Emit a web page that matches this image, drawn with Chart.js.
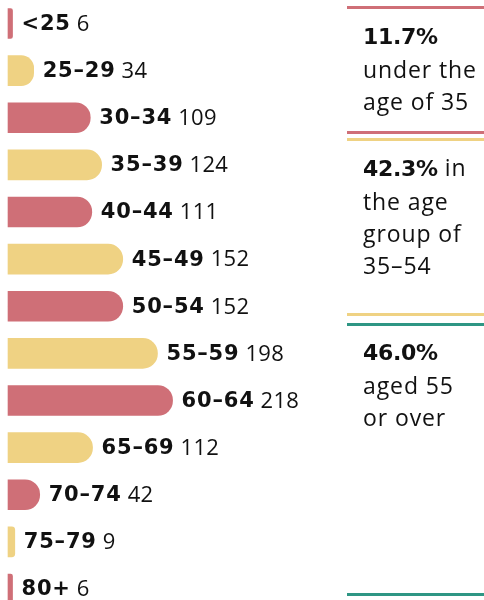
<!DOCTYPE html>
<html>
<head>
<meta charset="utf-8">
<script src="https://cdn.jsdelivr.net/npm/chart.js@4.4.1/dist/chart.umd.min.js"></script>
<style>
  html, body { margin: 0; padding: 0; background: #fff; }
  #wrap { position: relative; width: 484px; height: 600px; overflow: hidden; }
  canvas { position: absolute; left: 0; top: 0; }
  .rule { position: absolute; left: 347px; width: 137px; height: 3px; }
  .note { position: absolute; left: 363px; width: 125px; font-family: "Open Sans", sans-serif;
          font-size: 23px; line-height: 32px; color: #111; letter-spacing: 0.9px; }
  .note b { font-family: "DejaVu Sans", sans-serif; font-weight: 700; font-size: 22px; letter-spacing: -0.3px; }
</style>
</head>
<body>
<div id="wrap">
  <canvas id="c" width="484" height="600"></canvas>
  <div class="rule" style="top:6px;background:#cf6f77"></div>
  <div class="note" style="top:19px"><b>11.7%</b><br>under the<br>age of 35</div>
  <div class="rule" style="top:131px;background:#cf6f77"></div>
  <div class="rule" style="top:138px;background:#efd283"></div>
  <div class="note" style="top:151px"><b>42.3%</b> in<br>the age<br>group of<br>35–54</div>
  <div class="rule" style="top:313px;background:#efd283"></div>
  <div class="rule" style="top:323px;background:#2e9684"></div>
  <div class="note" style="top:335px"><b>46.0%</b><br>aged 55<br>or over</div>
  <div class="rule" style="top:593px;background:#2e9684"></div>
</div>
<script>
const ageGroups = ["<25", "25–29", "30–34", "35–39", "40–44", "45–49", "50–54", "55–59", "60–64", "65–69", "70–74", "75–79", "80+"];
const counts = [6, 34, 109, 124, 111, 152, 152, 198, 218, 112, 42, 9, 6];
const palette = ["#cf6f77", "#efd283"];

const barColors = ageGroups.map((_, i) => palette[i % 2]);

const labelPlugin = {
  id: 'barLabels',
  afterDatasetsDraw(chart) {
    const ctx = chart.ctx;
    const meta = chart.getDatasetMeta(0);
    ctx.save();
    ctx.textBaseline = 'middle';
    ctx.fillStyle = '#111';
    meta.data.forEach((el, i) => {
      const x = el.x + 9;
      const y = el.y + 1;
      ctx.font = 'bold 21px "DejaVu Sans", sans-serif';
      ctx.letterSpacing = '0.8px';
      ctx.fillText(ageGroups[i], x, y);
      const w = ctx.measureText(ageGroups[i]).width;
      ctx.font = '400 22px "Open Sans", sans-serif';
      ctx.letterSpacing = '0.3px';
      ctx.fillText(String(counts[i]), x + w + 6, y);
    });
    ctx.restore();
  }
};

new Chart(document.getElementById('c'), {
  type: 'bar',
  data: {
    labels: ageGroups,
    datasets: [{
      data: counts,
      backgroundColor: barColors,
      barThickness: 30,
      borderWidth: 0,
      borderSkipped: 'start',
      borderRadius: { topLeft: 0, bottomLeft: 0, topRight: 15, bottomRight: 15 },
      clip: false
    }]
  },
  options: {
    indexAxis: 'y',
    responsive: false,
    animation: false,
    layout: { padding: { left: 8, right: 174, top: 23.5, bottom: 11 } },
    plugins: { legend: { display: false }, tooltip: { enabled: false } },
    scales: {
      x: { display: false, min: 0, max: 400 },
      y: { display: false, offset: false }
    }
  },
  plugins: [labelPlugin]
});
</script>
</body>
</html>
